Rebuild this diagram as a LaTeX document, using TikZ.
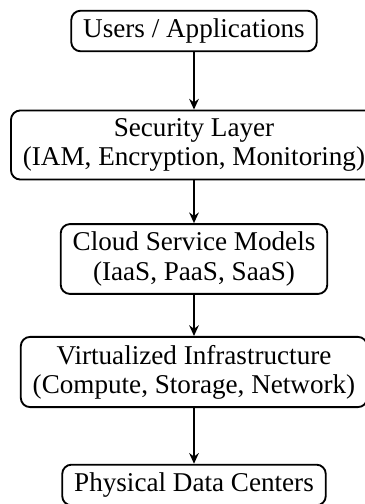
\documentclass[tikz,border=0pt]{standalone}
\usepackage{fontspec}
\setmainfont{Liberation Serif}
\usetikzlibrary{arrows.meta}
\begin{document}
\begin{tikzpicture}[x=0.3759pt, y=-0.3759pt,
  layerbox/.style={draw, line width=0.7pt, rounded corners=3.5pt, align=center,
    inner xsep=4.5pt, inner ysep=3pt,
    font=\fontsize{10.2pt}{11pt}\selectfont},
  flow/.style={line width=0.7pt, -{Stealth[length=4pt,width=3.6pt]}}]
\useasboundingbox (0,0) rectangle (364,504);
\node[layerbox] (users) at (194,31) {Users / Applications};
\node[layerbox] (sec) at (194,145) {Security Layer\\(IAM, Encryption, Monitoring)};
\node[layerbox] (cloud) at (194,259) {Cloud Service Models\\(IaaS, PaaS, SaaS)};
\node[layerbox] (virt) at (194,372) {Virtualized Infrastructure\\(Compute, Storage, Network)};
\node[layerbox] (phys) at (194,485) {Physical Data Centers};
\draw[flow] (users) -- (sec);
\draw[flow] (sec) -- (cloud);
\draw[flow] (cloud) -- (virt);
\draw[flow] (virt) -- (phys);
\end{tikzpicture}
\end{document}
